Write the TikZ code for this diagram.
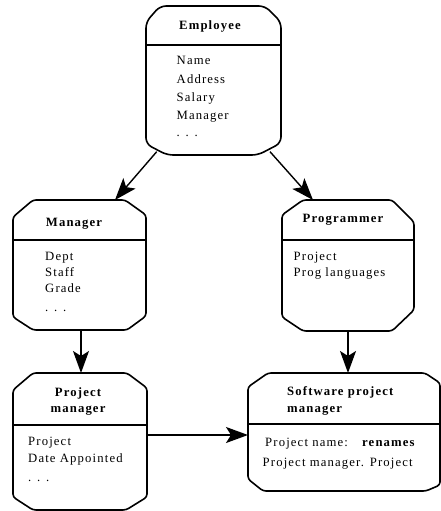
\documentclass[tikz,border=0pt]{standalone}
\usepackage{fontspec}
\setmainfont{Liberation Serif}[LetterSpace=9]
\usetikzlibrary{calc,arrows.meta}
\newcommand\octo[9]{\draw[boxline] ([yshift=-#3 pt]#1.north west) -- ([xshift=#2 pt]#1.north west) -- ([xshift=-#4 pt]#1.north east) -- ([yshift=-#5 pt]#1.north east) -- ([yshift=#7 pt]#1.south east) -- ([xshift=-#6 pt]#1.south east) -- ([xshift=#8 pt]#1.south west) -- ([yshift=#9 pt]#1.south west) -- cycle;}
\tikzset{
  frame/.style={rectangle,draw=none,inner sep=0pt,outer sep=0pt,anchor=north west},
  boxline/.style={line width=1.6pt,rounded corners=3pt},
  divider/.style={line width=1.6pt},
  conn/.style={line width=1.4pt,-{Stealth[length=22pt,width=16pt,inset=5pt]}},
  ttl/.style={font=\fontsize{12.7}{15}\selectfont\bfseries,inner sep=0pt},
  txt/.style={font=\fontsize{12.7}{15}\selectfont,inner sep=0pt,anchor=base west},
}
\begin{document}
\begin{tikzpicture}[x=1pt,y=-1pt]
\useasboundingbox (0,0) rectangle (440,511);
% frames
\node[frame,minimum width=135pt,minimum height=149pt] (emp) at (146,6) {};
\node[frame,minimum width=133pt,minimum height=130pt] (mgr) at (13,200) {};
\node[frame,minimum width=132pt,minimum height=131pt] (prog) at (282,200) {};
\node[frame,minimum width=134pt,minimum height=137pt] (pm) at (13,373) {};
\node[frame,minimum width=192pt,minimum height=118pt] (spm) at (248,373) {};
% outlines
\begin{scope}[boxline/.append style={rounded corners=6pt}]
\octo{emp}{14}{16}{16}{16}{23}{12}{21}{11}
\end{scope}
\octo{mgr}{20}{17}{21}{15}{19}{14}{20}{13}
\octo{prog}{21}{15}{22}{22}{22}{21}{21}{14}
\octo{pm}{20}{17}{20}{15}{21}{13}{20}{13}
\octo{spm}{20}{14}{15}{10}{14}{6}{15}{12}
% dividers
\draw[divider] ($(emp.north west)+(0,39)$) -- ($(emp.north east)+(0,39)$);
\draw[divider] ($(mgr.north west)+(0,40)$) -- ($(mgr.north east)+(0,40)$);
\draw[divider] ($(prog.north west)+(0,40)$) -- ($(prog.north east)+(0,40)$);
\draw[divider] ($(pm.north west)+(0,52)$) -- ($(pm.north east)+(0,52)$);
\draw[divider] ($(spm.north west)+(0,51)$) -- ($(spm.north east)+(0,51)$);
% Employee
\node[ttl,anchor=base] (empt) at (210,29.5) {Employee};
\node[txt] (e1) at (176.5,65) {Name};
\node[txt] (e2) at (176.5,83) {Address};
\node[txt] (e3) at (176.5,101.5) {Salary};
\node[txt] (e4) at (176.5,119) {Manager};
\node[txt] (e5) at (176.5,136.5) {. . .};
% Manager
\node[ttl,anchor=base] (mgrt) at (74,226) {Manager};
\node[txt] (m1) at (45,260.5) {Dept};
\node[txt] (m2) at (45,276) {Staff};
\node[txt] (m3) at (45,292.5) {Grade};
\node[txt] (m4) at (45,311.5) {. . .};
% Programmer
\node[ttl,anchor=base] (progt) at (343,222.5) {Programmer};
\node[txt] (p1) at (293.5,260.5) {Project};
\node[txt] (p2) at (293.5,276) {Prog languages};
% Project manager
\node[ttl,anchor=base] (pmt1) at (78,396.5) {Project};
\node[ttl,anchor=base] (pmt2) at (78,412.3) {manager};
\node[txt] (q1) at (28,445) {Project};
\node[txt] (q2) at (28,462.5) {Date Appointed};
\node[txt] (q3) at (28,481.5) {. . .};
% Software project manager
\node[ttl,anchor=base west] (spmt1) at (287,395) {Software project};
\node[ttl,anchor=base west] (spmt2) at (287,412.5) {manager};
\node[txt] (s1) at (265,446) {Project name:};
\node[ttl,anchor=base west] (s2) at (362,446) {renames};
\node[txt] (s3) at (262.5,466) {Project manager. Project};
% connectors
\draw[conn] ($(emp.south west)+(10.7,-3.3)$) -- ($(mgr.north west)+(102,0)$);
\draw[conn] ($(emp.south east)+(-11,-3.3)$) -- ($(prog.north west)+(31,0)$);
\draw[conn] ($(mgr.south west)+(68,0)$) -- ($(pm.north west)+(68,0)$);
\draw[conn] ($(prog.south west)+(66,0)$) -- ($(spm.north west)+(100,0)$);
\draw[conn] ($(pm.north east)+(0,62)$) -- ($(spm.north west)+(0,62)$);
\end{tikzpicture}
\end{document}
